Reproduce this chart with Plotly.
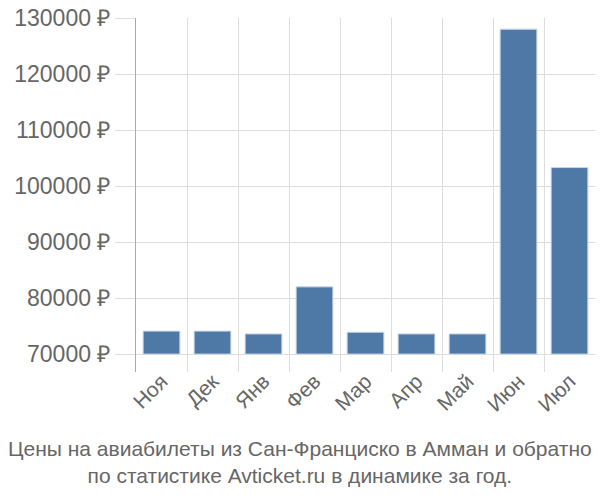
import plotly.graph_objects as go

months = ["Ноя", "Дек", "Янв", "Фев", "Мар", "Апр", "Май", "Июн", "Июл"]
prices = [74100, 74100, 73600, 82000, 73900, 73600, 73600, 128000, 103300]
y_ticks = [70000, 80000, 90000, 100000, 110000, 120000, 130000]
base_price = 70000
title_lines = ["Цены на авиабилеты из Сан-Франциско в Амман и обратно",
               "по статистике Avticket.ru в динамике за год."]

fig = go.Figure(go.Bar(
    x=months, y=[p - base_price for p in prices], base=base_price,
    marker=dict(color="#4e79a7", line=dict(color="#c9d6e6", width=1)), width=0.72,
))

fig.update_layout(
    width=600, height=500,
    margin=dict(l=136, r=5, t=14, b=128),
    plot_bgcolor="white", paper_bgcolor="white",
    font=dict(family="Liberation Sans, Arial, sans-serif", color="#666666"),
    showlegend=False,
    xaxis=dict(
        type="category", tickson="boundaries", showgrid=True, gridcolor="#dddddd", gridwidth=1,
        tickangle=-45, tickfont=dict(size=21, color="#666666"), ticks="", showline=False,
        ticklabelstandoff=-8,
    ),
    yaxis=dict(
        range=[66800, 130000], tickvals=y_ticks, ticktext=[f"{v} ₽" for v in y_ticks],
        showgrid=True, gridcolor="#dddddd", gridwidth=1,
        tickfont=dict(size=23, color="#666666"), showline=True, linecolor="#aaaaaa", linewidth=1,
        zeroline=False, ticks="outside", ticklen=20, tickcolor="#dddddd",
    ),
    annotations=[dict(
        text="<br>".join(title_lines), x=(300 - 136) / 459, xref="paper", xanchor="center",
        y=-0.178, yref="paper", yanchor="top", showarrow=False,
        font=dict(size=21, color="#666666", family="Liberation Sans Narrow, Arial Narrow, sans-serif"),
    )],
)

fig.write_html("out.html")
